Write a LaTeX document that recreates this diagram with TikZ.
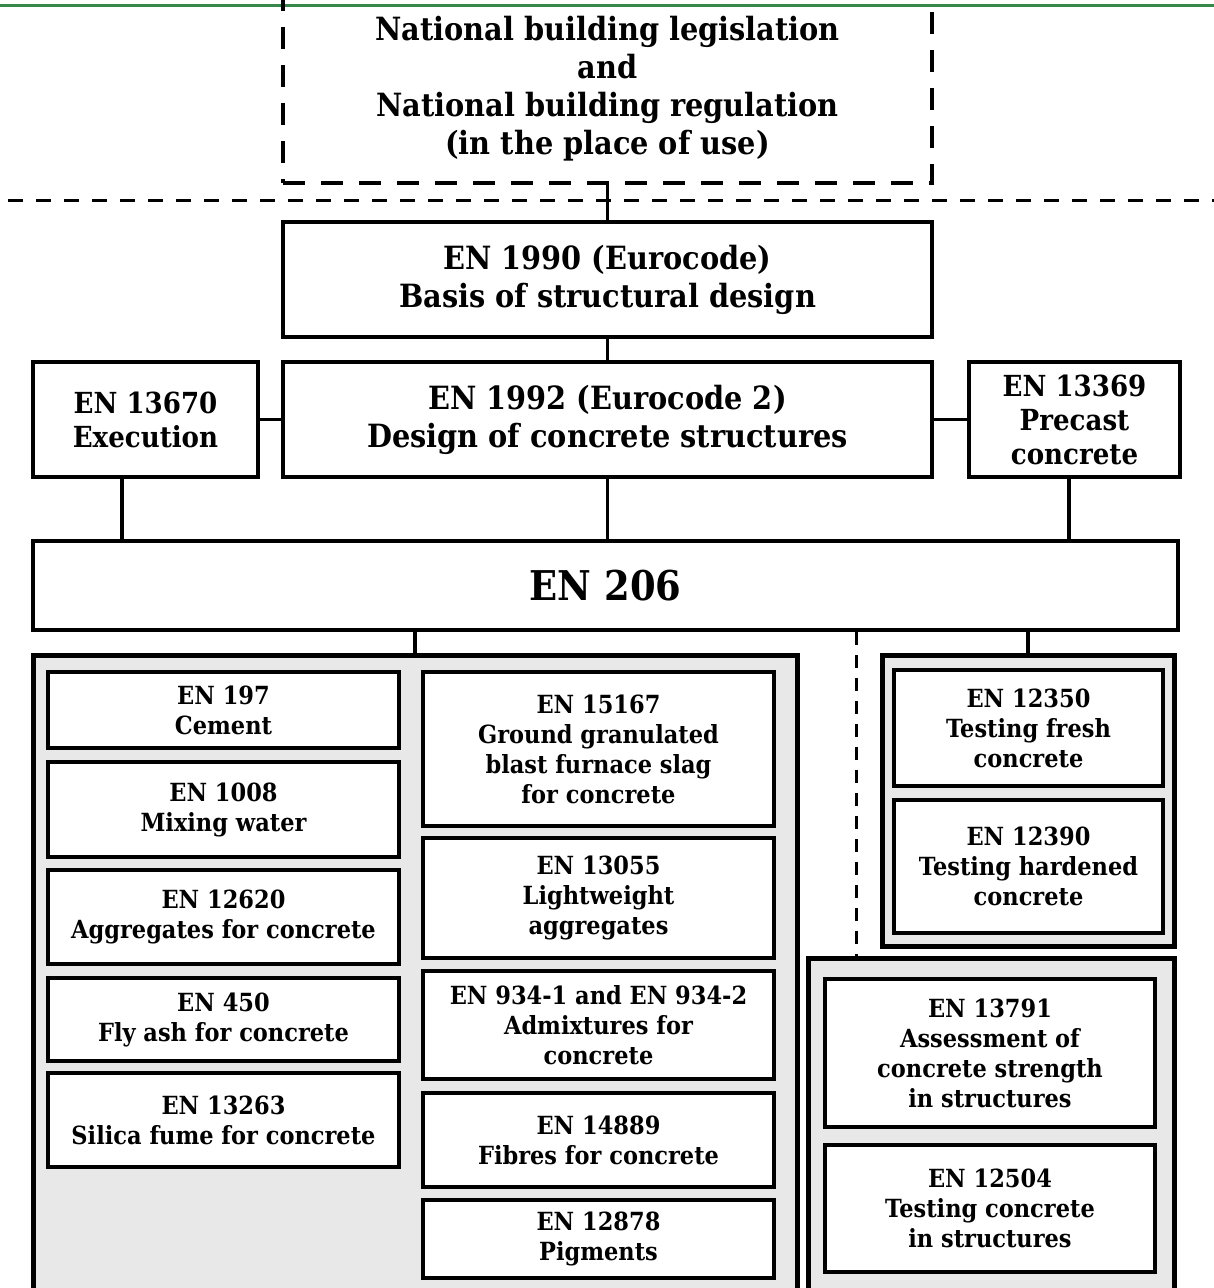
\documentclass[tikz,border=0pt]{standalone}
\usepackage{fontspec}
\setmainfont{DejaVu Serif}[FakeStretch=0.9]
\definecolor{topgreen}{RGB}{55,135,75}
\definecolor{grpgrey}{RGB}{232,232,232}
\begin{document}
\begin{tikzpicture}[x=1pt,y=-1pt,
  box/.style={draw,line width=4.5,fill=white,inner sep=0,align=center,
    font=\fontsize{25}{30}\selectfont\bfseries},
  bigbox/.style={box,font=\fontsize{32}{38}\selectfont\bfseries},
  sidebox/.style={box,font=\fontsize{29}{34}\selectfont\bfseries},
  grp/.style={draw,line width=5,fill=grpgrey,inner sep=0},
  link/.style={line width=3.5},
  dashlink/.style={line width=3,dash pattern=on 13 off 10}]
\useasboundingbox (0,0) rectangle (1214,1288);
\clip (0,0) rectangle (1214,1288);
\draw[topgreen,line width=3] (0,5) -- (1214,5);
\draw[line width=3,dash pattern=on 15 off 13] (8,200) -- (1214,200);
\node[bigbox,fill=none,line width=4,dash pattern=on 22 off 16,minimum width=649,minimum height=189] (nat) at (607.5,88.5)
  {National building legislation\\and\\National building regulation\\(in the place of use)};
\node[bigbox,minimum width=649,minimum height=115] (en1990) at (607.5,279.5) {EN 1990 (Eurocode)\\Basis of structural design};
\node[bigbox,minimum width=649,minimum height=115] (en1992) at (607.5,419.5) {EN 1992 (Eurocode 2)\\Design of concrete structures};
\node[sidebox,minimum width=225,minimum height=115] (en13670) at (145.5,419.5) {EN 13670\\Execution};
\node[sidebox,minimum width=211,minimum height=115] (en13369) at (1074.5,419.5) {EN 13369\\Precast\\concrete};
\node[box,font=\fontsize{41}{50}\selectfont\bfseries,minimum width=1145,minimum height=89] (en206) at (605.5,585.5) {EN 206};
\draw[link] (nat.south) -- (en1990.north);
\draw[link] (en1990.south) -- (en1992.north);
\draw[link] (en13670.east) -- (en1992.west);
\draw[link] (en1992.east) -- (en13369.west);
\draw[link] ([xshift=-23.5]en13670.south) -- ([xshift=-23.5]en13670.south |- en206.north);
\draw[link] (en1992.south) -- (en1992.south |- en206.north);
\draw[link] ([xshift=-5.5]en13369.south) -- ([xshift=-5.5]en13369.south |- en206.north);
\node[grp,minimum width=764,minimum height=645] (grpL) at (415,977.5) {};
\node[grp,minimum width=292,minimum height=291] (grpRT) at (1028,800.5) {};
\node[grp,minimum width=366,minimum height=342] (grpRB) at (991,1129) {};
\draw[link] (en206.south -| grpL.north) -- (grpL.north);
\draw[link] (en206.south -| grpRT.north) -- (grpRT.north);
\draw[dashlink] ([xshift=-135]grpRB.north |- en206.south) -- ([xshift=-135]grpRB.north);
\node[box,minimum width=351,minimum height=76] (en197) at (223.5,710) {EN 197\\Cement};
\node[box,minimum width=351,minimum height=95] (en1008) at (223.5,809.5) {EN 1008\\Mixing water};
\node[box,minimum width=351,minimum height=94] (en12620) at (223.5,917) {EN 12620\\Aggregates for concrete};
\node[box,minimum width=351,minimum height=83] (en450) at (223.5,1019.5) {EN 450\\Fly ash for concrete};
\node[box,minimum width=351,minimum height=94] (en13263) at (223.5,1120) {EN 13263\\Silica fume for concrete};
\node[box,minimum width=351,minimum height=154] (en15167) at (598.5,749) {EN 15167\\Ground granulated\\blast furnace slag\\for concrete};
\node[box,minimum width=351,minimum height=120] (en13055) at (598.5,898) {EN 13055\\Lightweight\\aggregates};
\node[box,minimum width=351,minimum height=108] (en934) at (598.5,1025) {EN 934-1 and EN 934-2\\Admixtures for\\concrete};
\node[box,minimum width=351,minimum height=94] (en14889) at (598.5,1140) {EN 14889\\Fibres for concrete};
\node[box,minimum width=351,minimum height=78] (en12878) at (598.5,1239) {EN 12878\\Pigments};
\node[box,minimum width=269,minimum height=116] (en12350) at (1028.5,728) {EN 12350\\Testing fresh\\concrete};
\node[box,minimum width=269,minimum height=133] (en12390) at (1028.5,866.5) {EN 12390\\Testing hardened\\concrete};
\node[box,minimum width=330,minimum height=148] (en13791) at (990,1053) {EN 13791\\Assessment of\\concrete strength\\in structures};
\node[box,minimum width=330,minimum height=127] (en12504) at (990,1208.5) {EN 12504\\Testing concrete\\in structures};
\end{tikzpicture}
\end{document}
